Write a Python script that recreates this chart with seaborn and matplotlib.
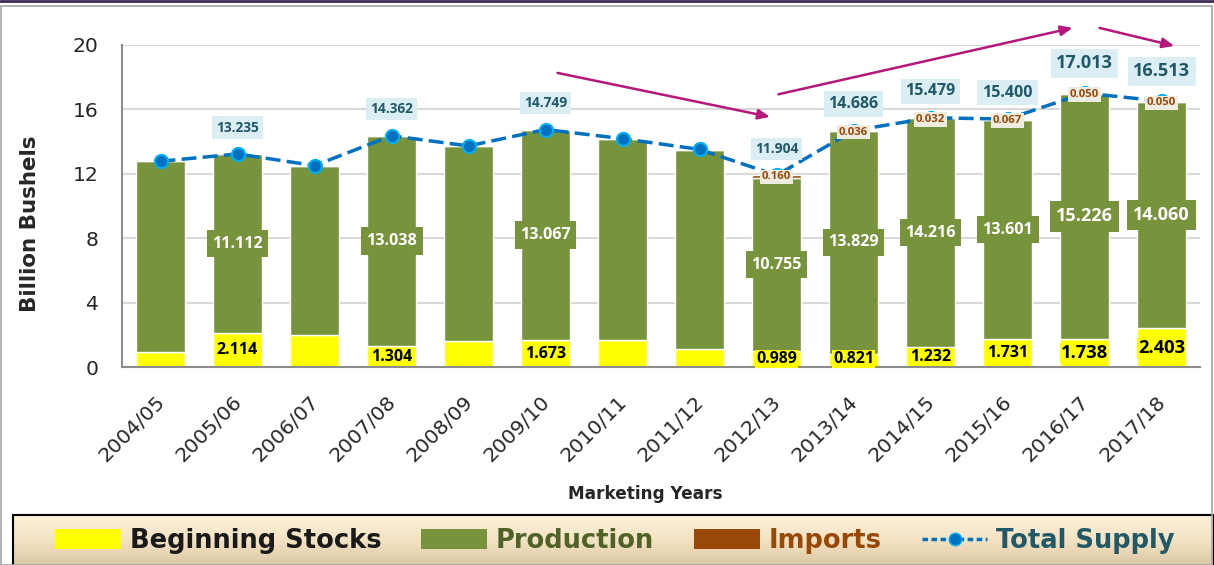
import numpy as np
import matplotlib
matplotlib.use("Agg")
import matplotlib.pyplot as plt
import matplotlib.transforms as mtrans
from matplotlib.patches import Patch, Rectangle
from matplotlib.lines import Line2D
import seaborn as sns

years = ["2004/05", "2005/06", "2006/07", "2007/08", "2008/09", "2009/10", "2010/11",
         "2011/12", "2012/13", "2013/14", "2014/15", "2015/16", "2016/17", "2017/18"]
stocks = [0.958, 2.114, 1.967, 1.304, 1.624, 1.673, 1.708, 1.128, 0.989, 0.821, 1.232, 1.731, 1.738, 2.403]
production = [11.807, 11.112, 10.531, 13.038, 12.092, 13.067, 12.447, 12.360, 10.755, 13.829, 14.216, 13.601, 15.226, 14.060]
imports = [0.011, 0.009, 0.012, 0.020, 0.014, 0.008, 0.028, 0.029, 0.160, 0.036, 0.032, 0.067, 0.050, 0.050]
total_supply = [12.776, 13.235, 12.510, 14.362, 13.730, 14.749, 14.183, 13.517, 11.904, 14.686, 15.479, 15.400, 17.013, 16.513]

# which years carry value labels
labeled = [1, 3, 5, 8, 9, 10, 11, 12, 13]
import_labeled = [8, 9, 10, 11, 12, 13]

YELLOW = "#FFFF00"
GREEN = "#77933C"
BROWN = "#984807"
BLUE = "#0070C0"
LBL = "Open Sans"

sns.set_style("white")
plt.rcParams["font.family"] = ["DejaVu Sans"]

fig = plt.figure(figsize=(12.14, 5.65), dpi=100)
ax = fig.add_axes([0.1005, 0.3504, 0.888, 0.570])

stocks_a = np.array(stocks)
prod_a = np.array(production)
below_imp = stocks_a + prod_a

sns.barplot(x=years, y=stocks, color=YELLOW, width=0.64, saturation=1, errorbar=None, ax=ax, zorder=2)
sns.barplot(x=years, y=production, bottom=stocks_a, color=GREEN, width=0.64, saturation=1,
            errorbar=None, ax=ax, zorder=2)
sns.barplot(x=years, y=imports, bottom=below_imp, color=BROWN, width=0.64, saturation=1,
            errorbar=None, ax=ax, zorder=2)
sns.lineplot(x=np.arange(len(years)), y=total_supply, color=BLUE, lw=2.5, ax=ax, zorder=4,
             linestyle=(0, (4.3, 1.8)), marker="o", markersize=9.5, markerfacecolor=BLUE,
             markeredgecolor="#00B0F0", markeredgewidth=1.5)

ax.set_xlim(-0.5, len(years) - 0.5)
ax.set_ylim(0, 20)
ax.set_yticks(range(0, 21, 4))
ax.yaxis.grid(True, color="#D9D9D9", lw=1.5, zorder=0)
ax.set_axisbelow(True)
for s in ["top", "right"]:
    ax.spines[s].set_visible(False)
for s in ["left", "bottom"]:
    ax.spines[s].set_color("#8C8C8C")
    ax.spines[s].set_linewidth(1.5)
ax.tick_params(axis="y", labelsize=14.7, length=0, pad=17)
ax.tick_params(axis="x", labelsize=14.7, length=0, pad=18)
shift = mtrans.ScaledTranslation(-0.05, 0, fig.dpi_scale_trans)
for lab in ax.get_xticklabels():
    lab.set_rotation(45)
    lab.set_ha("right")
    lab.set_rotation_mode("anchor")
    lab.set_transform(lab.get_transform() + shift)
ax.set_ylabel("Billion Bushels", fontsize=15.4, fontweight="bold")
ax.yaxis.set_label_coords(-0.076, 0.444)
ax.set_xlabel("Marketing Years", fontsize=12.2, fontweight="bold")
ax.xaxis.set_label_coords(0.485, -0.366)

for i in labeled:
    # total supply
    fs = 13.1 if i >= 12 else (11.5 if i >= 9 else 9.9)
    off = 21.5 if i >= 12 else 19
    ax.annotate(f"{total_supply[i]:.3f}", (i, total_supply[i]), xytext=(0, off),
                textcoords="offset points", ha="center", va="center", fontsize=fs,
                fontweight="bold", color="#215968", family=LBL, zorder=6,
                bbox=dict(boxstyle="square,pad=0.3", fc="#DAEEF3", ec="none"))
    # production
    fs = 13.1 if i >= 12 else 11.6
    ax.text(i, stocks[i] + production[i] / 2, f"{production[i]:.3f}", ha="center", va="center",
            fontsize=fs, fontweight="bold", color="white", family=LBL, zorder=5,
            bbox=dict(boxstyle="square,pad=0.35", fc=GREEN, ec="none"))
    # beginning stocks
    fs = 13.2 if i >= 12 else 11.5
    ax.text(i, max(stocks[i] / 2, 0.5), f"{stocks[i]:.3f}", ha="center", va="center",
            fontsize=fs, fontweight="bold", color="black", family=LBL, zorder=5,
            bbox=dict(boxstyle="square,pad=0.05", fc=YELLOW, ec="none"))

for i in import_labeled:
    ax.text(i, total_supply[i] - 0.1, f"{imports[i]:.3f}", ha="center", va="center",
            fontsize=8.2, fontweight="bold", color=BROWN, family=LBL, zorder=5,
            bbox=dict(boxstyle="square,pad=0.15", fc="#EEECE1", ec="none"))

# trend arrows
arrow_kw = dict(arrowstyle="-|>,head_length=0.7,head_width=0.3", color="#B5177A", lw=1.8)
for start, end in [((5.12, 18.3), (7.95, 15.5)), ((7.99, 16.9), (11.88, 21.1)), ((12.16, 21.1), (13.2, 19.9))]:
    ax.annotate("", xy=end, xytext=start, arrowprops=arrow_kw, annotation_clip=False)

# outer frame
fig.add_artist(Rectangle((0.001, 0), 0.997, 0.989, transform=fig.transFigure, fill=False,
                         ec="#A6A6A6", lw=1.2))
fig.add_artist(Line2D([0, 1], [0.998, 0.998], transform=fig.transFigure, color="#3F2A56", lw=2))

# legend band with gradient
lax = fig.add_axes([13 / 1214, 0, 1 - 13 / 1214, 50 / 565])
grad = np.linspace(0, 1, 64).reshape(-1, 1)
cmap = matplotlib.colors.LinearSegmentedColormap.from_list("band", ["#FCF1DC", "#F3E3C3", "#DCC8A4"])
lax.imshow(grad, aspect="auto", cmap=cmap, extent=[0, 1, 0, 1], origin="upper")
lax.set_xticks([])
lax.set_yticks([])
for s in lax.spines.values():
    s.set_color("black")
    s.set_linewidth(1.5)
lax.spines["bottom"].set_visible(False)

handles = [Patch(fc=YELLOW, ec="none"), Patch(fc=GREEN, ec="none"), Patch(fc=BROWN, ec="none"),
           Line2D([], [], color=BLUE, lw=2.5, linestyle=(0, (1.6, 1.0)), marker="o", markersize=9,
                  markerfacecolor=BLUE, markeredgecolor="#00B0F0")]
leg = fig.legend(handles, ["Beginning Stocks", "Production", "Imports", "Total Supply"],
                 loc="center left", bbox_to_anchor=(55 / 1214, 24 / 565), ncol=4, frameon=False,
                 prop=dict(family="DejaVu Sans", weight="bold", size=18.5), handlelength=2.56,
                 handleheight=0.78, handletextpad=0.35, columnspacing=1.55,
                 borderpad=0, borderaxespad=0)
for t, c in zip(leg.get_texts(), ["#1A1A1A", "#4F6228", BROWN, "#215968"]):
    t.set_color(c)

fig.savefig("out.png", dpi=100)
